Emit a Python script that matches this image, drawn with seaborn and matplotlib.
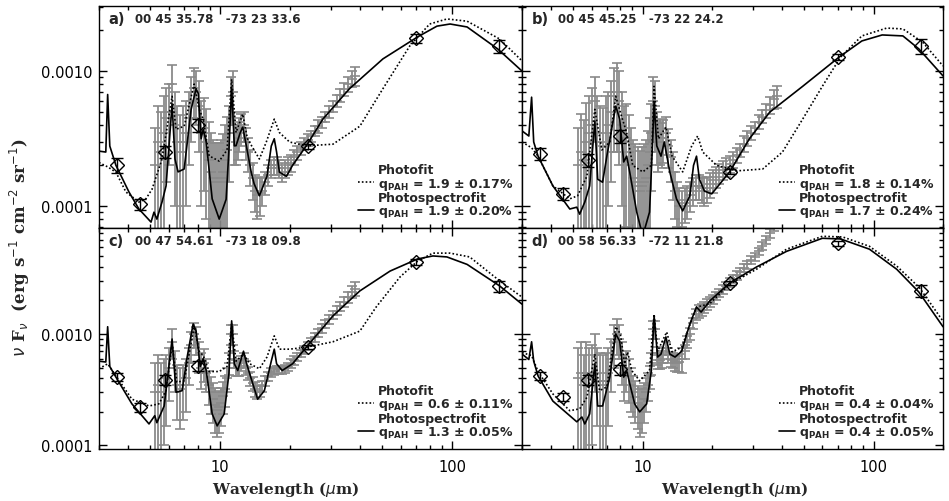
import matplotlib
matplotlib.use('Agg')
import numpy as np
import pandas as pd
import matplotlib.pyplot as plt
from matplotlib.lines import Line2D
from matplotlib.ticker import LogLocator, FuncFormatter, NullFormatter
import seaborn as sns

# photometry (IRAC + MIPS bands)
phot_wl = [3.6, 4.5, 5.8, 8.0, 24, 70, 160]

a_phot = [2.01e-4, 1.03e-4, 2.51e-4, 3.98e-4, 2.78e-4, 1.75e-3, 1.53e-3]
a_phot_err = [2.5e-5, 1.0e-5, 2.5e-5, 4.5e-5, 1.2e-5, 1.4e-4, 1.8e-4]
b_phot = [2.43e-4, 1.23e-4, 2.19e-4, 3.3e-4, 1.8e-4, 1.27e-3, 1.53e-3]
b_phot_err = [2.5e-5, 1.2e-5, 2.5e-5, 3.5e-5, 8e-6, 7e-5, 2.0e-4]
c_phot = [4.1e-4, 2.2e-4, 3.9e-4, 5.2e-4, 7.6e-4, 4.4e-3, 2.69e-3]
c_phot_err = [3.5e-5, 2e-5, 4e-5, 5e-5, 3e-5, 2.5e-4, 3e-4]
d_phot = [4.2e-4, 2.73e-4, 3.9e-4, 4.8e-4, 2.87e-3, 6.5e-3, 2.43e-3]
d_phot_err = [3.5e-5, 2.5e-5, 4e-5, 5e-5, 1e-4, 3e-4, 3e-4]

# IRS spectrum, same wavelength grid for all four positions
spec_wl = [5.25, 5.4, 5.55, 5.7, 5.85, 6.0, 6.2, 6.35, 6.5, 6.7,
           6.9, 7.1, 7.3, 7.5, 7.7, 7.9, 8.1, 8.3, 8.5, 8.7,
           8.9, 9.1, 9.3, 9.5, 9.7, 9.9, 10.1, 10.3, 10.5, 10.7,
           10.9, 11.1, 11.3, 11.5, 11.7, 11.9, 12.1, 12.3, 12.6, 12.9,
           13.2, 13.5, 13.8, 14.1, 14.4, 14.8, 15.2, 15.6, 16.0, 16.5,
           17.0, 17.5, 18.0, 18.5, 19.0, 19.6, 20.2, 20.8, 21.5, 22.2,
           23.0, 23.8, 24.6, 25.5, 26.4, 27.4, 28.4, 29.5, 30.6, 31.8,
           33.0, 34.3, 35.6, 37.0, 38.0]

a_spec = [2.0e-4, 3.0e-4, 2.5e-4, 3.5e-4, 4.5e-4, 5.0e-4, 8.0e-4, 4.0e-4, 3.0e-4, 2.5e-4,
          3.0e-4, 3.5e-4, 4.5e-4, 6.0e-4, 7.5e-4, 7.0e-4, 5.5e-4, 3.5e-4, 3.8e-4, 3.0e-4,
          2.2e-4, 1.8e-4, 1.6e-4, 1.5e-4, 1.5e-4, 1.5e-4, 1.6e-4, 1.8e-4, 2.2e-4, 2.6e-4,
          3.5e-4, 6.5e-4, 7.0e-4, 3.5e-4, 3.0e-4, 3.2e-4, 3.5e-4, 3.8e-4, 4.0e-4, 3.0e-4,
          2.5e-4, 2.0e-4, 1.6e-4, 1.3e-4, 1.2e-4, 1.25e-4, 1.3e-4, 1.5e-4, 1.7e-4, 1.9e-4,
          2.0e-4, 2.0e-4, 1.9e-4, 1.8e-4, 1.9e-4, 2.0e-4, 2.1e-4, 2.3e-4, 2.5e-4, 2.7e-4,
          2.9e-4, 3.1e-4, 3.3e-4, 3.6e-4, 3.9e-4, 4.2e-4, 4.6e-4, 5.0e-4, 5.5e-4, 6.0e-4,
          6.6e-4, 7.3e-4, 8.0e-4, 8.8e-4, 9.2e-4]
a_spec_err = [1.8e-4, 2.5e-4, 2.5e-4, 3e-4, 3e-4, 3e-4, 3e-4, 3e-4, 2.5e-4, 2.2e-4,
              2.5e-4, 2.5e-4, 2.5e-4, 3e-4, 3e-4, 3e-4, 3e-4, 2.5e-4, 2.5e-4, 2.2e-4,
              2e-4, 1.7e-4, 1.5e-4, 1.45e-4, 1.45e-4, 1.45e-4, 1.5e-4, 1.6e-4, 1.8e-4, 2e-4,
              2e-4, 2.5e-4, 3e-4, 1.5e-4, 1e-4, 1e-4, 1e-4, 1e-4, 1e-4, 8e-5,
              7e-5, 6e-5, 5e-5, 4e-5, 4e-5, 4e-5, 3e-5, 3e-5, 3e-5, 3e-5,
              3e-5, 3e-5, 3e-5, 3e-5, 3e-5, 3e-5, 3e-5, 3e-5, 3e-5, 3e-5,
              3e-5, 3e-5, 3e-5, 3e-5, 4e-5, 4e-5, 4e-5, 5e-5, 5e-5, 6e-5,
              7e-5, 8e-5, 1e-4, 1.2e-4, 1.5e-4]

b_spec = [2.0e-4, 2.5e-4, 2.2e-4, 3.0e-4, 3.5e-4, 4.0e-4, 6.0e-4, 3.5e-4, 3.0e-4, 2.8e-4,
          3.5e-4, 4.0e-4, 5.0e-4, 6.5e-4, 7.0e-4, 6.0e-4, 4.0e-4, 3.0e-4, 3.2e-4, 2.5e-4,
          2.0e-4, 1.6e-4, 1.5e-4, 1.4e-4, 1.3e-4, 1.4e-4, 1.5e-4, 1.6e-4, 2.0e-4, 2.5e-4,
          3.5e-4, 6.0e-4, 5.5e-4, 3.5e-4, 3.0e-4, 3.2e-4, 3.0e-4, 3.2e-4, 3.5e-4, 2.8e-4,
          2.3e-4, 1.8e-4, 1.3e-4, 1.1e-4, 1.0e-4, 1.0e-4, 1.05e-4, 1.1e-4, 1.2e-4, 1.3e-4,
          1.4e-4, 1.4e-4, 1.35e-4, 1.3e-4, 1.35e-4, 1.45e-4, 1.55e-4, 1.65e-4, 1.75e-4, 1.85e-4,
          1.95e-4, 2.05e-4, 2.2e-4, 2.4e-4, 2.6e-4, 2.9e-4, 3.2e-4, 3.5e-4, 3.8e-4, 4.2e-4,
          4.6e-4, 5.1e-4, 5.6e-4, 6.2e-4, 6.5e-4]
b_spec_err = [1.8e-4, 2.3e-4, 2.1e-4, 2.8e-4, 3e-4, 3.5e-4, 3e-4, 3e-4, 2.5e-4, 2.5e-4,
              3e-4, 3e-4, 3.5e-4, 4e-4, 4.5e-4, 4e-4, 3e-4, 2.5e-4, 2.5e-4, 2.2e-4,
              1.8e-4, 1.5e-4, 1.4e-4, 1.35e-4, 1.25e-4, 1.35e-4, 1.4e-4, 1.5e-4, 1.6e-4, 2e-4,
              2.2e-4, 3e-4, 3e-4, 1.5e-4, 1.2e-4, 1.2e-4, 1.1e-4, 1.1e-4, 1.1e-4, 9e-5,
              8e-5, 7e-5, 5e-5, 4e-5, 3.5e-5, 3e-5, 3e-5, 3e-5, 3e-5, 3e-5,
              3e-5, 3e-5, 3e-5, 3e-5, 3e-5, 3e-5, 3e-5, 3e-5, 3e-5, 3e-5,
              3e-5, 3e-5, 3e-5, 3e-5, 3e-5, 4e-5, 4e-5, 4e-5, 4e-5, 5e-5,
              5e-5, 6e-5, 8e-5, 1e-4, 1.2e-4]

c_spec = [3.0e-4, 3.5e-4, 3.0e-4, 3.5e-4, 4.0e-4, 5.0e-4, 8.5e-4, 5.0e-4, 3.5e-4, 3.2e-4,
          3.5e-4, 4.0e-4, 5.5e-4, 8.0e-4, 1.0e-3, 9.0e-4, 6.5e-4, 5.0e-4, 5.5e-4, 4.5e-4,
          3.5e-4, 3.0e-4, 2.6e-4, 2.3e-4, 2.1e-4, 2.2e-4, 2.4e-4, 2.8e-4, 3.2e-4, 4.0e-4,
          5.5e-4, 1.0e-3, 1.0e-3, 6.0e-4, 5.0e-4, 5.0e-4, 5.0e-4, 5.5e-4, 6.0e-4, 5.0e-4,
          4.5e-4, 4.0e-4, 3.6e-4, 3.2e-4, 3.0e-4, 3.1e-4, 3.4e-4, 3.8e-4, 4.2e-4, 4.5e-4,
          4.7e-4, 4.8e-4, 4.8e-4, 4.8e-4, 4.9e-4, 5.1e-4, 5.4e-4, 5.8e-4, 6.2e-4, 6.7e-4,
          7.2e-4, 7.8e-4, 8.5e-4, 9.3e-4, 1.02e-3, 1.12e-3, 1.23e-3, 1.35e-3, 1.48e-3, 1.62e-3,
          1.78e-3, 1.95e-3, 2.15e-3, 2.4e-3, 2.55e-3]
c_spec_err = [2.5e-4, 3e-4, 2.5e-4, 2.5e-4, 2.5e-4, 2.5e-4, 2.5e-4, 2e-4, 1.8e-4, 1.8e-4,
              1.8e-4, 2e-4, 2e-4, 2.5e-4, 2.5e-4, 2.5e-4, 2e-4, 1.8e-4, 1.8e-4, 1.5e-4,
              1.2e-4, 1.1e-4, 1e-4, 1e-4, 9e-5, 9e-5, 9e-5, 9e-5, 1e-4, 1e-4,
              1.2e-4, 2e-4, 2e-4, 1e-4, 8e-5, 8e-5, 8e-5, 8e-5, 8e-5, 7e-5,
              6e-5, 6e-5, 5e-5, 5e-5, 4e-5, 4e-5, 4e-5, 4e-5, 4e-5, 4e-5,
              4e-5, 4e-5, 4e-5, 4e-5, 4e-5, 4e-5, 5e-5, 5e-5, 5e-5, 5e-5,
              6e-5, 6e-5, 7e-5, 8e-5, 9e-5, 1e-4, 1.1e-4, 1.2e-4, 1.3e-4, 1.5e-4,
              1.7e-4, 2e-4, 2.5e-4, 3e-4, 3.5e-4]

d_spec = [4.0e-4, 4.5e-4, 3.5e-4, 4.5e-4, 4.0e-4, 4.5e-4, 6.5e-4, 4.5e-4, 3.8e-4, 3.5e-4,
          3.8e-4, 4.5e-4, 6.0e-4, 8.5e-4, 1.0e-3, 9.0e-4, 6.0e-4, 4.5e-4, 5.0e-4, 4.2e-4,
          3.5e-4, 3.0e-4, 2.7e-4, 2.4e-4, 2.2e-4, 2.3e-4, 2.6e-4, 3.0e-4, 3.5e-4, 4.2e-4,
          5.5e-4, 1.1e-3, 1.1e-3, 6.5e-4, 5.8e-4, 5.8e-4, 6.0e-4, 6.5e-4, 7.5e-4, 6.5e-4,
          6.0e-4, 5.8e-4, 5.6e-4, 5.5e-4, 5.6e-4, 6.0e-4, 7.0e-4, 8.5e-4, 1.0e-3, 1.25e-3,
          1.5e-3, 1.6e-3, 1.65e-3, 1.75e-3, 1.85e-3, 1.95e-3, 2.05e-3, 2.2e-3, 2.35e-3, 2.5e-3,
          2.7e-3, 2.9e-3, 3.1e-3, 3.35e-3, 3.6e-3, 3.9e-3, 4.2e-3, 4.6e-3, 4.9e-3, 5.5e-3,
          6.2e-3, 7.0e-3, 8.0e-3, 9.2e-3, 1.0e-2]
d_spec_err = [3.5e-4, 4e-4, 3e-4, 4e-4, 3.5e-4, 3.5e-4, 3.5e-4, 3e-4, 3e-4, 3e-4,
              3e-4, 3e-4, 3e-4, 3.5e-4, 3.5e-4, 3e-4, 2.5e-4, 2e-4, 2e-4, 1.8e-4,
              1.5e-4, 1.2e-4, 1.1e-4, 1e-4, 1e-4, 1e-4, 1e-4, 1e-4, 1e-4, 1e-4,
              1.2e-4, 2e-4, 2e-4, 1.2e-4, 1e-4, 1e-4, 1e-4, 1e-4, 1e-4, 1e-4,
              9e-5, 9e-5, 9e-5, 9e-5, 1e-4, 1.5e-4, 1e-4, 1e-4, 1.2e-4, 1.5e-4,
              1.8e-4, 2e-4, 2e-4, 2e-4, 2e-4, 2e-4, 2e-4, 2e-4, 2e-4, 2.2e-4,
              2.3e-4, 2.5e-4, 2.6e-4, 2.8e-4, 3e-4, 3.2e-4, 3.5e-4, 3.8e-4, 4e-4, 4.5e-4,
              5e-4, 6e-4, 7e-4, 8e-4, 9e-4]

# model SEDs: photofit (dotted) and photospectrofit (solid)
a_solid_wl = [3.0, 3.21, 3.27, 3.34, 3.55, 4.04, 4.46, 5.03, 5.18, 5.33, 5.61, 5.84, 6.2,
              6.38, 6.58, 6.99, 7.49, 7.87, 8.04, 8.27, 8.44, 8.7, 9.23, 9.9, 10.6, 10.9,
              11.2, 11.5, 11.7, 12.2, 12.5, 12.96, 13.6, 14.0, 14.75, 15.9, 16.6, 17.1,
              17.5, 18.0, 19.3, 20.5, 23.5, 27.7, 36.1, 50.3, 71, 86, 98, 116, 157, 200]
a_solid_f = [2.55e-4, 2.51e-4, 6.7e-4, 2.78e-4, 2.0e-4, 1.27e-4, 9.5e-5, 7.6e-5, 9.0e-5,
             8.0e-5, 1.07e-4, 1.41e-4, 5.7e-4, 2.23e-4, 1.79e-4, 1.88e-4, 5.2e-4, 7.4e-4,
             6.8e-4, 3.15e-4, 3.7e-4, 2.98e-4, 1.13e-4, 8.0e-5, 1.12e-4, 2.6e-4, 7.6e-4,
             2.79e-4, 2.8e-4, 3.5e-4, 3.85e-4, 2.79e-4, 1.78e-4, 1.46e-4, 1.19e-4, 1.66e-4,
             2.78e-4, 3.15e-4, 2.51e-4, 1.78e-4, 1.66e-4, 2.0e-4, 2.79e-4, 4.4e-4, 7.4e-4,
             1.23e-3, 1.79e-3, 2.15e-3, 2.23e-3, 2.12e-3, 1.46e-3, 1.0e-3]
a_dot_wl = [3.0, 3.1, 3.27, 3.55, 3.92, 4.46, 4.78, 5.08, 5.61, 6.2, 6.45, 6.99, 7.72,
            8.12, 8.44, 8.96, 9.9, 10.7, 11.2, 11.7, 12.5, 13.1, 14.75, 15.8, 17.1, 18.0,
            19.9, 23.5, 30.6, 40, 50.3, 65.6, 80, 95, 116, 160, 200]
a_dot_f = [2.1e-4, 2.04e-4, 1.95e-4, 1.78e-4, 1.27e-4, 1.07e-4, 1.13e-4, 1.33e-4, 2.23e-4,
           6.5e-4, 3.7e-4, 3.9e-4, 8.0e-4, 5.2e-4, 4.4e-4, 2.35e-4, 2.15e-4, 2.6e-4, 8.7e-4,
           3.5e-4, 4.8e-4, 3.15e-4, 2.23e-4, 2.98e-4, 4.4e-4, 3.5e-4, 2.98e-4, 2.79e-4,
           2.87e-4, 3.9e-4, 7.4e-4, 1.53e-3, 2.23e-3, 2.43e-3, 2.34e-3, 1.73e-3, 1.19e-3]

b_solid_wl = [3.0, 3.21, 3.3, 3.37, 3.52, 4.08, 4.83, 5.18, 5.33, 5.61, 5.89, 6.2, 6.38,
              6.7, 6.99, 7.64, 7.95, 8.27, 8.52, 8.78, 9.42, 10.0, 10.7, 11.0, 11.2, 11.5,
              12.0, 12.4, 13.1, 14.0, 14.9, 16.0, 16.6, 17.1, 17.6, 18.5, 19.9, 23.8, 29.0,
              35.5, 49.3, 71, 89, 109, 134, 157, 200]
b_solid_f = [3.6e-4, 3.3e-4, 6.4e-4, 2.98e-4, 2.34e-4, 1.41e-4, 9.5e-5, 9.8e-5, 8.7e-5,
             1.07e-4, 1.41e-4, 4.26e-4, 1.58e-4, 1.5e-4, 2.34e-4, 5.5e-4, 4.4e-4, 2.12e-4,
             2.34e-4, 1.79e-4, 9.0e-5, 6.0e-5, 9.0e-5, 2.6e-4, 5.9e-4, 2.79e-4, 2.34e-4,
             2.98e-4, 1.79e-4, 1.13e-4, 9.2e-5, 1.19e-4, 2.0e-4, 2.34e-4, 1.58e-4, 1.29e-4,
             1.23e-4, 1.79e-4, 3.15e-4, 4.96e-4, 7.7e-4, 1.27e-3, 1.67e-3, 1.85e-3, 1.82e-3,
             1.46e-3, 9.2e-4]
b_dot_wl = [3.0, 3.3, 3.52, 4.08, 4.83, 5.22, 5.73, 6.2, 6.65, 7.2, 7.64, 8.1, 8.52, 9.05,
            10.0, 10.9, 11.2, 11.7, 12.6, 13.4, 14.9, 16.3, 17.3, 18.2, 20.9, 25.5, 33.1,
            40.3, 49.3, 60, 72, 89, 114, 134, 163, 200]
b_dot_f = [2.98e-4, 2.7e-4, 2.34e-4, 1.41e-4, 1.13e-4, 1.19e-4, 1.66e-4, 5.2e-4, 2.6e-4,
           2.98e-4, 6.5e-4, 4.6e-4, 3.5e-4, 2.0e-4, 1.79e-4, 2.0e-4, 7.7e-4, 3.15e-4, 3.85e-4,
           2.34e-4, 1.79e-4, 2.79e-4, 3.3e-4, 2.51e-4, 2.0e-4, 1.82e-4, 1.88e-4, 2.51e-4,
           4.4e-4, 7.7e-4, 1.27e-3, 1.82e-3, 2.08e-3, 2.05e-3, 1.64e-3, 1.09e-3]

c_solid_wl = [3.0, 3.21, 3.27, 3.34, 3.55, 4.16, 4.93, 5.22, 5.33, 5.73, 6.2, 6.45, 6.85,
              7.2, 7.64, 7.87, 8.2, 8.44, 8.7, 9.23, 9.7, 10.4, 10.9, 11.2, 11.5, 11.9, 12.6,
              13.0, 13.8, 14.5, 15.5, 16.6, 17.1, 17.5, 18.5, 20.5, 23.5, 30.6, 40, 54, 71,
              82.6, 94.9, 116, 160, 200]
c_solid_f = [5.7e-4, 5.6e-4, 1.16e-3, 5.1e-4, 4.1e-4, 2.36e-4, 1.56e-4, 1.85e-4, 1.6e-4,
             2.26e-4, 9.0e-4, 3.0e-4, 3.1e-4, 6.2e-4, 1.23e-3, 1.06e-3, 5.1e-4, 6.0e-4, 4.7e-4,
             1.92e-4, 1.5e-4, 1.92e-4, 4.4e-4, 1.31e-3, 5.4e-4, 4.7e-4, 7.0e-4, 5.4e-4, 3.6e-4,
             2.6e-4, 3.1e-4, 5.7e-4, 7.3e-4, 5.4e-4, 4.7e-4, 5.4e-4, 7.6e-4, 1.45e-3, 2.43e-3,
             3.66e-3, 4.7e-3, 5.0e-3, 4.9e-3, 4.2e-3, 2.7e-3, 1.85e-3]
c_dot_wl = [3.0, 3.27, 3.55, 4.16, 4.93, 5.44, 5.84, 6.2, 6.5, 6.99, 7.72, 8.12, 8.44, 8.96,
            9.9, 10.7, 11.2, 11.7, 12.6, 13.4, 14.75, 15.9, 17.1, 18.0, 19.9, 23.5, 30.6, 40,
            47, 59.6, 71, 82.6, 98, 119, 160, 200]
c_dot_f = [4.87e-4, 5.4e-4, 4.2e-4, 2.6e-4, 2.26e-4, 2.36e-4, 3.1e-4, 8.1e-4, 3.7e-4, 3.8e-4,
           1.16e-3, 7.0e-4, 6.4e-4, 4.6e-4, 4.6e-4, 5.1e-4, 1.23e-3, 5.7e-4, 6.6e-4, 5.4e-4,
           4.87e-4, 6.2e-4, 9.6e-4, 7.3e-4, 7.3e-4, 7.6e-4, 8.5e-4, 1.06e-3, 1.74e-3, 3.24e-3,
           4.5e-3, 5.3e-3, 5.3e-3, 4.9e-3, 3.0e-3, 2.14e-3]

d_solid_wl = [3.0, 3.21, 3.3, 3.37, 3.52, 4.08, 5.18, 5.45, 5.61, 5.89, 6.2, 6.38, 6.7, 7.2,
              7.64, 7.95, 8.27, 8.52, 8.78, 9.23, 9.7, 10.4, 10.9, 11.2, 11.6, 12.0, 12.6,
              13.1, 13.8, 14.75, 16.0, 17.1, 17.9, 19.5, 23.8, 31.1, 42, 60, 72, 96, 126,
              157, 200]
d_solid_f = [6.6e-4, 5.9e-4, 8.5e-4, 5.7e-4, 4.2e-4, 2.5e-4, 1.63e-4, 1.8e-4, 1.56e-4,
             1.92e-4, 5.4e-4, 2.26e-4, 2.26e-4, 4.1e-4, 1.0e-3, 8.6e-4, 4.1e-4, 4.7e-4, 3.6e-4,
             2.36e-4, 2.0e-4, 2.36e-4, 4.7e-4, 1.45e-3, 6.2e-4, 6.6e-4, 9.4e-4, 6.6e-4, 6.2e-4,
             7.0e-4, 1.23e-3, 1.74e-3, 1.57e-3, 1.97e-3, 2.86e-3, 3.98e-3, 5.5e-3, 7.2e-3,
             7.1e-3, 5.75e-3, 3.8e-3, 2.38e-3, 1.16e-3]
d_dot_wl = [3.0, 3.3, 3.52, 4.08, 4.83, 5.33, 5.73, 6.2, 6.5, 6.99, 7.64, 8.0, 8.35, 8.6,
            8.96, 9.7, 10.7, 11.2, 11.6, 12.7, 13.4, 14.75, 17.1, 19.5, 23.8, 31.1, 42, 60,
            73.5, 96, 126, 158, 200]
d_dot_f = [6.8e-4, 6.4e-4, 4.6e-4, 2.9e-4, 2.05e-4, 2.13e-4, 2.7e-4, 6.6e-4, 3.1e-4, 3.35e-4,
           1.16e-3, 1.0e-3, 5.4e-4, 6.9e-4, 4.7e-4, 3.8e-4, 4.7e-4, 1.5e-3, 7.0e-4, 1.04e-3,
           6.9e-4, 7.6e-4, 1.74e-3, 1.86e-3, 2.8e-3, 3.8e-3, 5.75e-3, 7.5e-3, 7.4e-3, 6.1e-3,
           4.06e-3, 2.6e-3, 1.3e-3]

panel_letters = ['a)', 'b)', 'c)', 'd)']
panel_coords = ['00 45 35.78   -73 23 33.6', '00 45 45.25   -73 22 24.2',
                '00 47 54.61   -73 18 09.8', '00 58 56.33   -72 11 21.8']
photofit_q = ['1.9 ± 0.17%', '1.8 ± 0.14%', '0.6 ± 0.11%', '0.4 ± 0.04%']
spectrofit_q = ['1.9 ± 0.20%', '1.7 ± 0.24%', '1.3 ± 0.05%', '0.4 ± 0.05%']

sns.set_style('ticks')
plt.rcParams['font.family'] = ['DejaVu Sans']
plt.rcParams['mathtext.fontset'] = 'dejavusans'
plt.rcParams['axes.linewidth'] = 1.0

GREY = '#8a8a8a'

panels = [
    (a_spec, a_spec_err, a_phot, a_phot_err, a_solid_wl, a_solid_f, a_dot_wl, a_dot_f),
    (b_spec, b_spec_err, b_phot, b_phot_err, b_solid_wl, b_solid_f, b_dot_wl, b_dot_f),
    (c_spec, c_spec_err, c_phot, c_phot_err, c_solid_wl, c_solid_f, c_dot_wl, c_dot_f),
    (d_spec, d_spec_err, d_phot, d_phot_err, d_solid_wl, d_solid_f, d_dot_wl, d_dot_f),
]

fig = plt.figure(figsize=(9.49, 5.02), dpi=100)
positions = [[0.1043, 0.5438, 0.4457, 0.4422], [0.5501, 0.5438, 0.4436, 0.4422],
             [0.1043, 0.1036, 0.4457, 0.4402], [0.5501, 0.1036, 0.4436, 0.4402]]
ylims = [(6.87e-5, 3.03e-3), (6.87e-5, 3.03e-3), (9.3e-5, 8.9e-3), (9.3e-5, 8.9e-3)]

for i, (spec, spec_err, phot, phot_err, s_wl, s_f, d_wl, d_f) in enumerate(panels):
    ax = fig.add_axes(positions[i])
    ax.set_xscale('log')
    ax.set_yscale('log')

    # spectrum
    ax.errorbar(spec_wl, spec, yerr=spec_err, fmt='_', color=GREY, ms=7, mew=1.2,
                elinewidth=1.3, capsize=3.5, capthick=1.2, zorder=1)

    # model curves
    df = pd.concat([
        pd.DataFrame({'wl': d_wl, 'flux': d_f, 'fit': 'Photofit'}),
        pd.DataFrame({'wl': s_wl, 'flux': s_f, 'fit': 'Photospectrofit'}),
    ])
    sns.lineplot(data=df, x='wl', y='flux', style='fit',
                 dashes={'Photofit': (1, 1.3), 'Photospectrofit': ''},
                 color='black', lw=1.2, estimator=None, sort=False, legend=False,
                 ax=ax, zorder=3)

    # photometry
    ax.errorbar(phot_wl, phot, yerr=phot_err, fmt='D', ms=7.5, mfc='none', mec='black',
                mew=1, ecolor='black', elinewidth=1, capsize=4.5, capthick=1, zorder=5)

    ax.set_xlim(3.0, 200)
    ax.set_ylim(*ylims[i])
    ax.set_xlabel('')
    ax.set_ylabel('')

    ax.xaxis.set_major_locator(LogLocator(base=10, numticks=10))
    ax.xaxis.set_minor_locator(LogLocator(base=10, subs=np.arange(2, 10), numticks=20))
    ax.yaxis.set_major_locator(LogLocator(base=10, numticks=10))
    ax.yaxis.set_minor_locator(LogLocator(base=10, subs=np.arange(2, 10), numticks=20))
    ax.xaxis.set_major_formatter(FuncFormatter(lambda v, p: f'{v:g}'))
    ax.yaxis.set_major_formatter(FuncFormatter(lambda v, p: f'{v:.4f}'))
    ax.xaxis.set_minor_formatter(NullFormatter())
    ax.yaxis.set_minor_formatter(NullFormatter())
    ax.tick_params(which='both', direction='in', top=True, right=True, width=1,
                   labelsize=10.5, colors='black')
    ax.tick_params(which='major', length=6, pad=5)
    ax.tick_params(axis='x', which='major', pad=7)
    ax.tick_params(which='minor', length=3)
    if i < 2:
        ax.tick_params(labelbottom=False)
    if i % 2 == 1:
        ax.tick_params(labelleft=False)
    for sp in ax.spines.values():
        sp.set_color('black')
        sp.set_linewidth(1.0)

    ax.text(0.022, 0.943, panel_letters[i], transform=ax.transAxes, fontsize=10.5,
            fontweight='bold', va='center', ha='left')
    ax.text(0.085, 0.943, panel_coords[i], transform=ax.transAxes, fontsize=8.5,
            fontweight='bold', va='center', ha='left')

    handles = [Line2D([], [], color='none'),
               Line2D([], [], color='black', lw=1.2, dashes=(1, 1.3)),
               Line2D([], [], color='none'),
               Line2D([], [], color='black', lw=1.2)]
    labels = ['Photofit', r'q$_\mathbf{PAH}$ = ' + photofit_q[i],
              'Photospectrofit', r'q$_\mathbf{PAH}$ = ' + spectrofit_q[i]]
    ax.legend(handles, labels, loc='lower right', frameon=False,
              prop={'weight': 'bold', 'size': 9}, handlelength=1.3, handletextpad=0.3,
              labelspacing=-0.05, borderaxespad=0.2, borderpad=0.5)

fig.text(0.021, 0.506, r'$\nu$ F$_\nu$  (erg s$^{-1}$ cm$^{-2}$ sr$^{-1}$)', rotation=90,
         ha='center', va='center', fontsize=12, fontweight='bold', family='DejaVu Serif')
fig.text(0.301, 0.024, r'Wavelength ($\mu$m)', ha='center', va='center', fontsize=11,
         fontweight='bold', family='DejaVu Serif')
fig.text(0.774, 0.024, r'Wavelength ($\mu$m)', ha='center', va='center', fontsize=11,
         fontweight='bold', family='DejaVu Serif')

fig.savefig('out.png', dpi=100)
